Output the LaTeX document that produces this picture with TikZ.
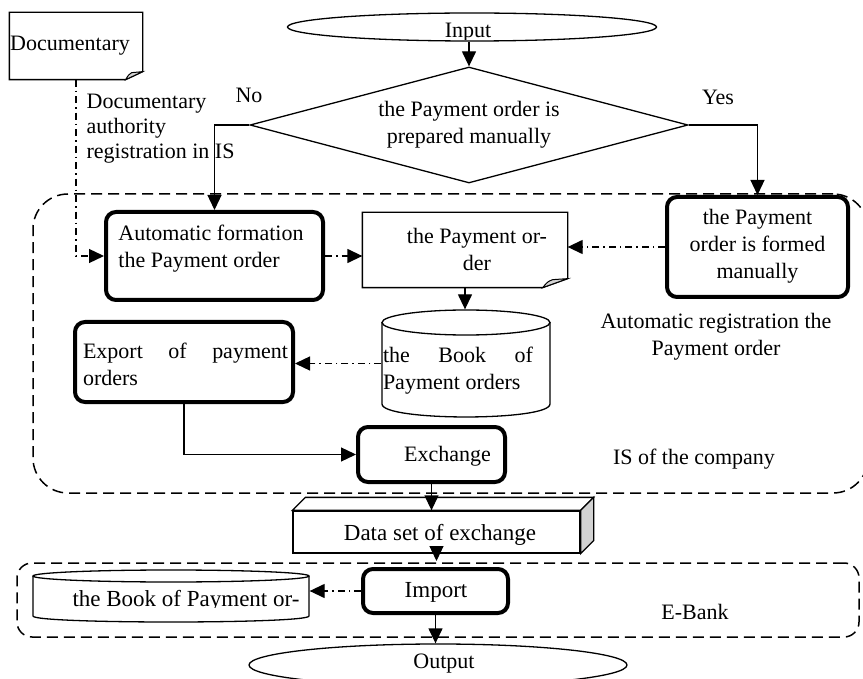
\documentclass[tikz,border=0pt]{standalone}
\usepackage{fontspec}
\setmainfont{Liberation Serif}
\usetikzlibrary{shapes.geometric,arrows.meta,calc}
\begin{document}
\begin{tikzpicture}[x=1pt,y=-1pt,line width=1.3pt,
  every node/.style={font=\fontsize{22}{27}\selectfont, inner sep=0pt},
  arr/.style={-{Triangle[length=15pt,width=14pt]}},
  dd/.style={dash pattern=on 7pt off 4pt on 1.5pt off 4pt},
  ddarr/.style={dd,-{Triangle[length=15pt,width=14pt]}},
  proc/.style={draw,line width=4pt,rounded corners=10pt},
  region/.style={draw,line width=1.5pt,dash pattern=on 11pt off 6pt},
  big/.style={font=\fontsize{23}{27}\selectfont},
]
\useasboundingbox (0,0) rectangle (863,679);

% regions
\node[region, rounded corners=35pt, minimum width=835pt, minimum height=299pt] (isreg) at (450.5,343.5) {};
\node[region, rounded corners=15pt, minimum width=842pt, minimum height=74pt] (ebreg) at (438,600) {};

% input
\node[ellipse, draw, minimum width=369pt, minimum height=28pt] (inp) at (472,27) {};
\begin{scope}
  \clip (280,8) rectangle (670,40);
  \node (inptxt) at (468,33) {Input};
\end{scope}

% decision
\node[diamond, draw, aspect=3.78, minimum width=438pt, minimum height=116pt, align=center] (dec) at (469,125) {the Payment order is\\prepared manually};
\node (no) at (249,95) {No};
\node (yes) at (718,97) {Yes};

% Documentary
\node[minimum width=132pt, minimum height=66pt] (docu) at (76,46) {};
\draw[fill=white] (docu.north west) -- (docu.north east) -- ([yshift=8pt]docu.south east) -- ([xshift=-17pt]docu.south east) -- (docu.south west) -- cycle;
\draw[fill=gray!35, line width=1pt] ([xshift=-17pt]docu.south east) .. controls ([xshift=-14pt,yshift=5pt]docu.south east) .. ([xshift=-11pt,yshift=7pt]docu.south east) -- ([yshift=8pt]docu.south east) -- cycle;
\node (docutxt) at (70,46) {Documentary};
\node[align=left, anchor=west, font=\fontsize{22}{25}\selectfont] (docreg) at (86,129) {Documentary\\authority\\registration in IS};

% automatic formation
\node[proc, minimum width=217pt, minimum height=88pt] (auto) at (214.5,256) {};
\node[align=left] (autotxt) at (211,249) {Automatic formation\\the Payment order};

% payment order document
\node[minimum width=204pt, minimum height=74pt] (podoc) at (465,250) {};
\draw (podoc.north west) -- (podoc.north east) -- ([yshift=9pt]podoc.south east) -- ([xshift=-25pt]podoc.south east) -- (podoc.south west) -- cycle;
\draw[fill=gray!35, line width=1pt] ([xshift=-25pt]podoc.south east) .. controls ([xshift=-20pt,yshift=6pt]podoc.south east) .. ([xshift=-15pt,yshift=8pt]podoc.south east) -- ([yshift=9pt]podoc.south east) -- cycle;
\node[align=center] (podoctxt) at (477,249) {the Payment or-\\der};

% manual
\node[proc, minimum width=181pt, minimum height=100pt] (manual) at (757.5,247) {};
\node[align=center] (manualtxt) at (757.5,246) {the Payment\\order is formed\\manually};
\node[align=center] (autoreg) at (716,337) {Automatic registration the\\Payment order};

% book of payment orders (cylinder)
\node[minimum width=168pt, minimum height=107pt] (book) at (466,363.5) {};
\draw (382,322.5) -- (382,404) .. controls (382,421.3) and (550,421.3) .. (550,404) -- (550,322.5);
\draw (466,322.5) ellipse [x radius=84pt, y radius=12.5pt];
\node[align=left] (booktxt) at (458,371) {\makebox[150pt][s]{the Book of}\\Payment orders};

% export
\node[proc, minimum width=218pt, minimum height=80pt] (export) at (184,362) {};
\node[align=left] (exporttxt) at (185.5,364) {\makebox[205pt][s]{Export of payment}\\orders};

% exchange
\node[proc, minimum width=147pt, minimum height=55pt] (exchange) at (431.5,454.5) {};
\node (exchtxt) at (447.5,456) {Exchange};
\node (istxt) at (694,459) {IS of the company};

% data set (3D box)
\node[draw, fill=white, minimum width=287pt, minimum height=42pt] (dataset) at (436.5,532) {};
\draw[fill=white] (dataset.north west) -- ++(13,-13) -- ([xshift=13pt,yshift=13pt]dataset.north east) -- (dataset.north east) -- cycle;
\draw[fill=gray!35] (dataset.north east) -- ++(13,-13) -- ([xshift=13pt,yshift=13pt]dataset.south east) -- (dataset.south east) -- cycle;
\node[big] (datatxt) at (440,535) {Data set of exchange};

% import
\node[proc, minimum width=145pt, minimum height=44pt] (import) at (435.5,591) {};
\node[big] (imptxt) at (436,592) {Import};
\node (ebtxt) at (695,612) {E-Bank};

% book 2
\node[minimum width=276pt, minimum height=52pt] (book2) at (171,596) {};
\draw (33,576) -- (33,616) .. controls (33,624) and (309,624) .. (309,616) -- (309,576);
\draw (171,576) ellipse [x radius=138pt, y radius=6pt];
\begin{scope}
  \clip (30,583) rectangle (312,607.5);
  \node[big] (book2txt) at (186,601) {the Book of Payment or-};
\end{scope}

% output
\node[ellipse, draw, minimum width=378pt, minimum height=42pt] (out) at (438,665) {};
\node (outtxt) at (444,664) {Output};

% connectors
\draw[arr] (inp.south -| dec.north) -- (dec.north);
\draw[arr] (dec.west) -| (auto.north);
\draw[arr] (dec.east) -| (manual.north);
\draw[ddarr] (docu.south) |- (auto.west);
\draw[ddarr] (auto.east) -- (auto.east -| podoc.west);
\draw[ddarr] (manual.west) -- (manual.west -| podoc.east);
\draw[arr] (podoc.south) -- (podoc.south |- book.north);
\draw[ddarr] (book.west) -- (book.west -| export.east);
\draw[arr] (export.south) |- (exchange.west);
\draw[arr] (exchange.south) -- (exchange.south |- dataset.north);
\draw[arr] (dataset.south) -- ([yshift=6pt]import.north -| dataset.south);
\draw[ddarr] (import.west) -- (import.west -| book2.east);
\draw[arr] (import.south) -- (import.south |- out.north);
\end{tikzpicture}
\end{document}
